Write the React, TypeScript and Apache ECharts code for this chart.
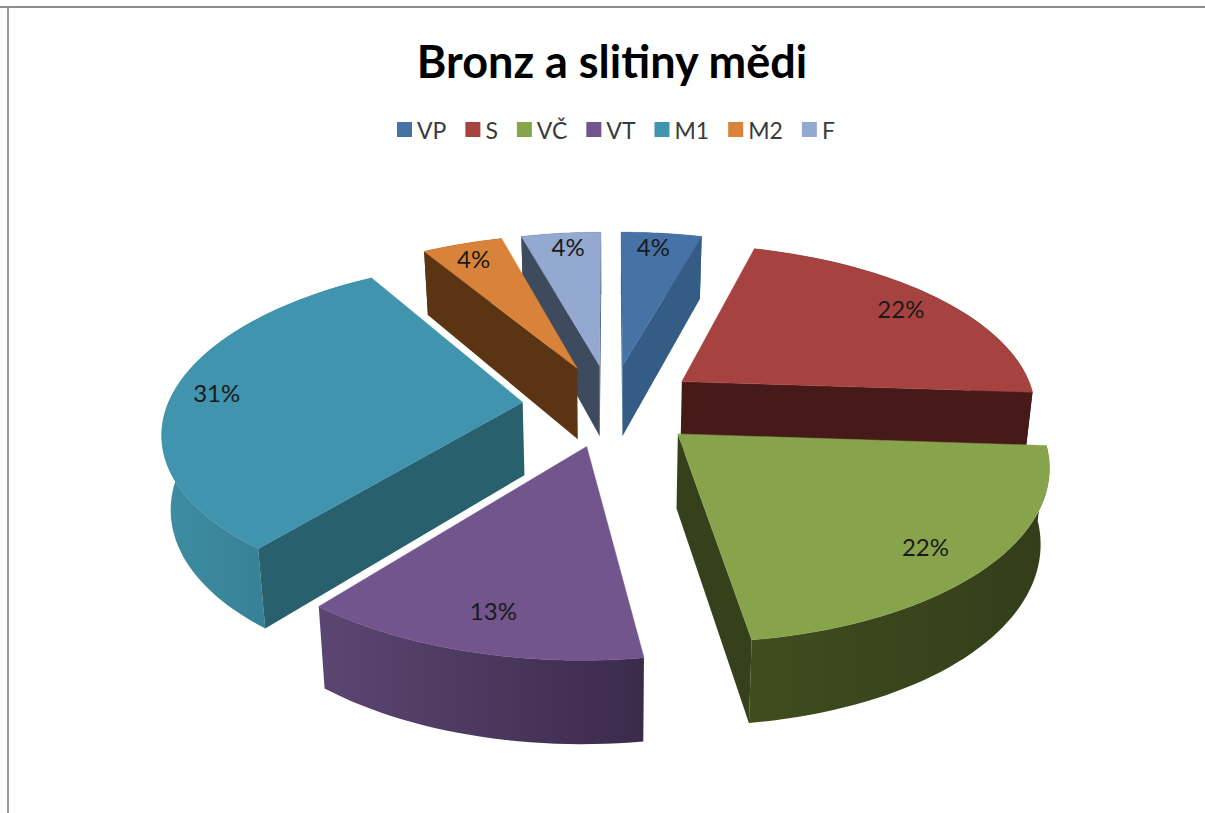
import React, { useEffect, useRef } from "react";
import * as echarts from "echarts";

const categories = ["VP", "S", "VČ", "VT", "M1", "M2", "F"];
const shareValues = [4.35, 21.7, 21.7, 13, 30.6, 4.35, 4.3];
const topColors = ["#4672a6", "#a64341", "#87a44d", "#71558c", "#4094ae", "#d98239", "#93a9cf"];
const wallColors = ["#345c85", "#461a18", "#36411b", "#3d2c4d", "#28606e", "#5a3413", "#3e4a5e"];
const rimLeftColors = ["#345c85", "#461a18", "#3f4d1e", "#5b4672", "#3f8da3", "#5a3413", "#3e4a5e"];
const rimRightColors = ["#345c85", "#461a18", "#333e1a", "#3b2b4b", "#2f7487", "#5a3413", "#3e4a5e"];
const labelNudgeX = [-3, 0, -10, 6, -9, -4, 2];
const labelNudgeY = [-4, -1, 1, -5, -1, -2, -4];
const drawOrder = [0, 6, 5, 1, 4, 2, 3];

const VIEW = { cx: 611, cy: 405, rx: 355, ry: 165.6, tilt: 0.157, depth: 73, explode: 0.25, labelAt: 1.1 };

function project(x: number, y: number, down: number): number[] {
  const d = 1 - VIEW.tilt * y;
  const pinch = down ? 0.98 : 1;
  return [
    VIEW.cx + (VIEW.rx * x * pinch) / d,
    VIEW.cy + (VIEW.ry * y) / d + down * VIEW.depth * (1 + 0.12 * y),
  ];
}

function area(p: number[][]): number {
  let s = 0;
  for (let i = 0; i < p.length; i++) {
    const q = p[(i + 1) % p.length];
    s += p[i][0] * q[1] - q[0] * p[i][1];
  }
  return s;
}

const total = shareValues.reduce((a, b) => a + b, 0);
const startAngles = shareValues.map((_, i) =>
  (shareValues.slice(0, i).reduce((a, b) => a + b, 0) / total) * Math.PI * 2
);

function renderSlice(i: number) {
  const a0 = startAngles[i];
  const a1 = a0 + (shareValues[i] / total) * Math.PI * 2;
  const mid = (a0 + a1) / 2;
  const ox = Math.sin(mid) * VIEW.explode;
  const oy = -Math.cos(mid) * VIEW.explode;
  const steps = Math.max(4, Math.ceil((a1 - a0) / 0.03));
  const rimAt = (a: number, down: number) => project(ox + Math.sin(a), oy - Math.cos(a), down);
  const apexT = project(ox, oy, 0);
  const apexB = project(ox, oy, 1);
  const arcT: number[][] = [];
  const arcB: number[][] = [];
  for (let s = 0; s <= steps; s++) {
    const a = a0 + ((a1 - a0) * s) / steps;
    arcT.push(rimAt(a, 0));
    arcB.push(rimAt(a, 1));
  }
  const children: any[] = [];
  const poly = (points: number[][], fill: any) => ({
    type: "polygon",
    shape: { points },
    style: { fill, stroke: fill === topColors[i] ? topColors[i] : "none", lineWidth: 0.5 },
  });
  children.push(
    poly(arcT.concat(arcB.slice().reverse()), new echarts.graphic.LinearGradient(0, 0, 1, 0, [
      { offset: 0, color: rimLeftColors[i] },
      { offset: 1, color: rimRightColors[i] },
    ]))
  );
  const startWall = [apexT, arcT[0], arcB[0], apexB];
  const endWall = [apexT, arcT[steps], arcB[steps], apexB];
  if (area(startWall) < 0) children.push(poly(startWall, wallColors[i]));
  if (area(endWall) > 0) children.push(poly(endWall, wallColors[i]));
  children.push(poly([apexT].concat(arcT), topColors[i]));
  const lp = project(Math.sin(mid) * VIEW.labelAt, -Math.cos(mid) * VIEW.labelAt, 0);
  children.push({
    type: "text",
    x: lp[0] + labelNudgeX[i],
    y: lp[1] + labelNudgeY[i],
    style: {
      text: `${Math.round((shareValues[i] / total) * 100)}%`,
      fontFamily: "Lato",
      fontSize: 24,
      fill: "#1a1a1a",
      align: "center",
      verticalAlign: "middle",
    },
  });
  return { type: "group", children };
}

export default function App() {
  const ref = useRef<HTMLDivElement>(null);
  useEffect(() => {
    if (!ref.current) return;
    const chart = echarts.init(ref.current, undefined, { renderer: "svg" });
    chart.setOption({
      animation: false,
      backgroundColor: "#ffffff",
      title: {
        text: "Bronz a slitiny mědi",
        left: 607,
        top: 33,
        textAlign: "center",
        textStyle: { fontFamily: "Lato", fontWeight: "bold", fontSize: 45, color: "#000000" },
      },
      legend: {
        data: categories,
        left: 392,
        top: 113,
        icon: "rect",
        itemWidth: 15,
        itemHeight: 15,
        itemGap: 19,
        textStyle: { fontFamily: "Lato", fontSize: 23, color: "#3a3a3a" },
      },
      graphic: [
        { type: "line", shape: { x1: 0, y1: 7, x2: 1205, y2: 7 }, style: { stroke: "#8c8c8c", lineWidth: 2 } },
        { type: "line", shape: { x1: 8, y1: 7, x2: 8, y2: 813 }, style: { stroke: "#9a9a9a", lineWidth: 2 } },
      ],
      series: categories.map((name, i) => ({
        type: "custom",
        name,
        coordinateSystem: "none",
        z: 2 + drawOrder.indexOf(i),
        itemStyle: { color: topColors[i] },
        data: [shareValues[i]],
        renderItem: () => renderSlice(i),
      })),
    });
    return () => chart.dispose();
  }, []);
  return <div ref={ref} style={{ position: "fixed", left: 0, top: 0, width: 1205, height: 813 }} />;
}
